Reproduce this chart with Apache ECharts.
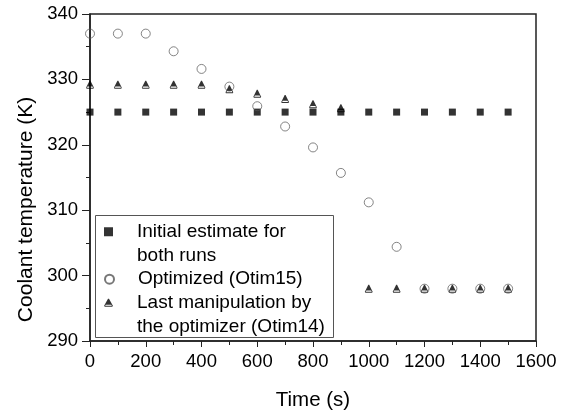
<!DOCTYPE html>
<html>
<head>
<meta charset="utf-8">
<script src="https://cdn.jsdelivr.net/npm/echarts@6/dist/echarts.min.js"></script>
<style>
  html, body { margin: 0; padding: 0; background: #fff; }
  #chart { width: 565px; height: 416px; }
</style>
</head>
<body>
<div id="chart"></div>
<script>
// time stamps (s)
var times = [0, 100, 200, 300, 400, 500, 600, 700, 800, 900, 1000, 1100, 1200, 1300, 1400, 1500];
// coolant temperature (K)
var initialEstimate = [325, 325, 325, 325, 325, 325, 325, 325, 325, 325, 325, 325, 325, 325, 325, 325];
var optimized = [337, 337, 337, 334.3, 331.6, 328.9, 325.9, 322.8, 319.6, 315.7, 311.2, 304.4, 298, 298, 298, 298];
var lastManipulation = [329.2, 329.2, 329.2, 329.2, 329.2, 328.5, 327.8, 327.0, 326.2, 325.6, 298, 298, 298, 298, 298, 298];

var seriesNames = [
  "Initial estimate for\nboth runs",
  "Optimized (Otim15)",
  "Last manipulation by\nthe optimizer (Otim14)"
];

function pairs(ys) {
  var out = [];
  for (var i = 0; i < times.length; i++) {
    out.push([times[i], ys[i]]);
  }
  return out;
}

var font = "'Liberation Sans', Arial, sans-serif";
var triangle = "path://M4,0 L7.2,5.8 L0.8,5.8 Z M0,7 L8,7 L8,8 L0,8 Z M3.5,0 L4.5,0 L8.5,7.2 L7.5,7.2 Z M3.5,0 L4.5,0 L0.5,7.2 L-0.5,7.2 Z";

// two-line entries get a blank first line so the symbol sits on the first text line
function legendAt(name, top, twoLines) {
  return {
    data: [name],
    orient: "vertical",
    left: 104,
    top: top,
    padding: 0,
    itemWidth: 9,
    itemHeight: 9,
    selectedMode: false,
    formatter: function (n) {
      return twoLines ? " \n" + n : n;
    },
    textStyle: {
      fontFamily: font,
      fontSize: 19,
      color: "#000",
      lineHeight: 23.7,
      padding: [0, 0, 0, 19]
    }
  };
}

const myChart = echarts.init(document.getElementById("chart"));
var option = {
  animation: false,
  backgroundColor: "#fff",
  grid: {
    show: true,
    left: 90,
    right: 29,
    top: 14,
    bottom: 74,
    borderColor: "#222",
    borderWidth: 1.5
  },
  legend: [
    legendAt(seriesNames[0], 196.2, true),
    legendAt(seriesNames[1], 267.3, false),
    legendAt(seriesNames[2], 267.3, true)
  ],
  graphic: [
    {
      type: "rect",
      shape: { x: 95.5, y: 215.5, width: 238, height: 122 },
      style: { fill: "none", stroke: "#555", lineWidth: 1 },
      z: 1
    }
  ],
  xAxis: {
    type: "value",
    min: 0,
    max: 1600,
    interval: 200,
    name: "Time (s)",
    nameLocation: "middle",
    nameGap: 49,
    nameTextStyle: { fontFamily: font, fontSize: 20.5, color: "#000" },
    axisLine: { lineStyle: { color: "#222", width: 1.5 } },
    axisTick: { length: 6, lineStyle: { color: "#222" } },
    minorTick: { show: true, splitNumber: 2, length: 4, lineStyle: { color: "#222" } },
    axisLabel: {
      fontFamily: font, fontSize: 18.5, color: "#000", margin: 11,
      formatter: function (v) { return String(v); }
    },
    splitLine: { show: false }
  },
  yAxis: {
    type: "value",
    min: 290,
    max: 340,
    interval: 10,
    name: "Coolant temperature (K)",
    nameLocation: "middle",
    nameGap: 44,
    nameTextStyle: {
      fontFamily: font, fontSize: 21, color: "#000",
      padding: [0, 64, 0, 0]
    },
    axisLine: { lineStyle: { color: "#222", width: 1.5 } },
    axisTick: { length: 8, lineStyle: { color: "#222" } },
    minorTick: { show: true, splitNumber: 2, length: 4, lineStyle: { color: "#222" } },
    axisLabel: {
      fontFamily: font, fontSize: 18.5, color: "#000", margin: 12,
      formatter: function (v) { return String(v); }
    },
    splitLine: { show: false }
  },
  series: [
    {
      name: seriesNames[0],
      type: "scatter",
      data: pairs(initialEstimate),
      symbol: "rect",
      symbolSize: 7,
      itemStyle: { color: "#000" }
    },
    {
      name: seriesNames[2],
      type: "scatter",
      data: pairs(lastManipulation),
      symbol: triangle,
      symbolSize: [8, 8],
      itemStyle: { color: "#000" }
    },
    {
      name: seriesNames[1],
      type: "scatter",
      data: pairs(optimized),
      symbol: "circle",
      symbolSize: 9,
      itemStyle: { color: "rgba(0,0,0,0)", borderColor: "#555", borderWidth: 0.9 }
    }
  ]
};
myChart.setOption(option);
</script>
</body>
</html>
